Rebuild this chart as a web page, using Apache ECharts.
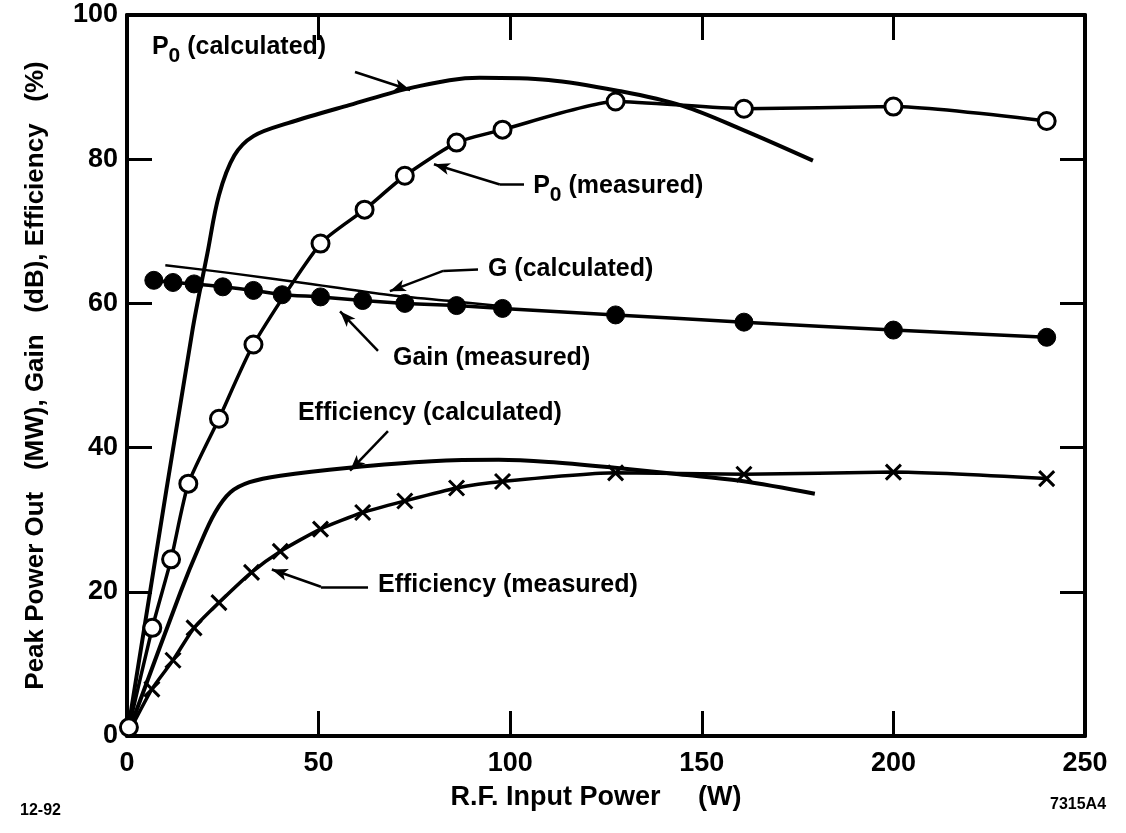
<!DOCTYPE html>
<html>
<head>
<meta charset="utf-8">
<script src="https://cdn.jsdelivr.net/npm/echarts@6/dist/echarts.min.js"></script>
<style>
  html, body { margin: 0; padding: 0; background: #fff; }
  #chart { width: 1126px; height: 833px; }
</style>
</head>
<body>
<div id="chart"></div>
<script>
// 数据：数值
const xTicks = [0, 50, 100, 150, 200, 250];
const yTicks = [0, 20, 40, 60, 80, 100];

// P0 (calculated)
const p0CalcX = [0, 17, 21, 24, 28, 33, 42, 58, 75, 92, 110, 128, 145, 161, 179];
const p0CalcY = [0, 56, 67, 75, 80.5, 83.2, 85, 87.5, 90, 91.3, 91, 89.5, 87.4, 84, 79.8];

// P0 (measured)
const p0MeasX = [0.5, 6.6, 11.5, 16, 24, 33, 50.5, 62, 72.5, 86, 98, 127.5, 161, 200, 240];
const p0MeasY = [1.2, 15, 24.5, 35, 44, 54.3, 68.3, 73, 77.7, 82.3, 84.1, 88, 87, 87.3, 85.3];

// G (calculated)
const gCalcX = [10, 27, 48, 68, 85, 100];
const gCalcY = [65.3, 64.2, 62.7, 61.2, 60.3, 59.5];

// Gain (measured)
const gainMeasX = [7, 12, 17.5, 25, 33, 40.5, 50.5, 61.5, 72.5, 86, 98, 127.5, 161, 200, 240];
const gainMeasY = [63.2, 62.9, 62.7, 62.3, 61.8, 61.2, 60.9, 60.4, 60, 59.7, 59.3, 58.4, 57.4, 56.3, 55.3];

// Efficiency (calculated)
const effCalcX = [0, 14, 19, 23, 27, 32, 40, 58, 79.5, 97, 110, 127.3, 144, 160, 179.5];
const effCalcY = [0, 20, 26.5, 31, 33.8, 35.2, 36.1, 37.2, 38.1, 38.3, 38, 37.2, 36.3, 35.4, 33.6];

// Efficiency (measured)，第一个点在原点，不画标记
const effMeasX = [0, 6.5, 12, 17.5, 24, 32.5, 40, 50.5, 61.5, 72.5, 86, 98, 127.5, 161, 200, 240];
const effMeasY = [0, 6.5, 10.5, 15, 18.5, 22.7, 25.6, 28.7, 31, 32.6, 34.4, 35.3, 36.5, 36.3, 36.6, 35.7];

// 注释文字位置（数据坐标）
const noteP0Calc = [6.5, 95.6];
const noteP0Meas = [106, 76.2];
const noteGCalc = [94.2, 64.7];
const noteGainMeas = [69.4, 52.4];
const noteEffCalc = [44.6, 44.8];
const noteEffMeas = [65.5, 20.9];

const FONT = 'Liberation Sans, Arial, Helvetica, sans-serif';

function pairs(xs, ys) {
    return xs.map((x, i) => [x, ys[i]]);
}

// 箭头：折线的最后一段带箭头
function leader(points) {
    const segs = [];
    for (let i = 0; i < points.length - 1; i++) {
        const last = i === points.length - 2;
        segs.push([
            { coord: points[i], symbol: 'none' },
            { coord: points[i + 1], symbol: last ? 'arrow' : 'none' }
        ]);
    }
    return segs;
}

function noteLine(data) {
    return {
        silent: true,
        animation: false,
        symbolSize: [9, 16],
        label: { show: false },
        lineStyle: { color: '#000', width: 2.5, type: 'solid' },
        emphasis: { disabled: true },
        data: data
    };
}

const richSub = {
    s: { fontSize: 21, fontWeight: 'bold', fontFamily: FONT, color: '#000', padding: [18, 0, 0, 0] }
};

function notePoint(coord, text) {
    return {
        silent: true,
        animation: false,
        symbol: 'circle',
        symbolSize: 0,
        label: {
            show: true,
            position: 'right',
            distance: 0,
            formatter: text,
            color: '#000',
            fontFamily: FONT,
            fontWeight: 'bold',
            fontSize: 25,
            rich: richSub
        },
        data: [{ coord: coord }]
    };
}

const chart = echarts.init(document.getElementById('chart'));

const axisBase = {
    type: 'value',
    axisLine: { show: true, onZero: false, lineStyle: { color: '#000', width: 4 } },
    axisTick: { show: true, inside: true, length: 25, lineStyle: { color: '#000', width: 3 } },
    splitLine: { show: false }
};

const tickFont = { color: '#000', fontFamily: FONT, fontWeight: 'bold', fontSize: 27 };

chart.setOption({
    backgroundColor: '#fff',
    animation: false,
    grid: { left: 127, right: 41, top: 15, bottom: 97 },
    xAxis: [
        Object.assign({}, axisBase, {
            position: 'bottom',
            min: xTicks[0], max: xTicks[xTicks.length - 1], interval: 50,
            axisLabel: Object.assign({ margin: 14 }, tickFont),
            name: 'R.F. Input Power     (W)',
            nameLocation: 'middle',
            nameGap: 48,
            nameTextStyle: Object.assign({ padding: [0, 20, 0, 0] }, tickFont)
        }),
        Object.assign({}, axisBase, {
            position: 'top',
            min: 0, max: 250, interval: 50,
            axisLabel: { show: false }
        })
    ],
    yAxis: [
        Object.assign({}, axisBase, {
            position: 'left',
            min: yTicks[0], max: yTicks[yTicks.length - 1], interval: 20,
            axisLabel: Object.assign({ margin: 9 }, tickFont),
            name: 'Peak Power Out   (MW), Gain   (dB), Efficiency   (%)',
            nameLocation: 'middle',
            nameGap: 78,
            nameTextStyle: Object.assign({}, tickFont, { fontSize: 26 })
        }),
        Object.assign({}, axisBase, {
            position: 'right',
            min: 0, max: 100, interval: 20,
            axisLabel: { show: false }
        })
    ],
    series: [
        {
            name: 'P0 (calculated)',
            type: 'line',
            data: pairs(p0CalcX, p0CalcY),
            smooth: 0.35,
            symbol: 'none',
            lineStyle: { color: '#000', width: 4 },
            z: 2,
            markPoint: notePoint(noteP0Calc, 'P{s|0} (calculated)'),
            markLine: noteLine(leader([[59.5, 92.1], [73.9, 89.6]]))
        },
        {
            name: 'G (calculated)',
            type: 'line',
            data: pairs(gCalcX, gCalcY),
            smooth: 0.3,
            symbol: 'none',
            lineStyle: { color: '#000', width: 2.5 },
            z: 2,
            markPoint: notePoint(noteGCalc, 'G (calculated)'),
            markLine: noteLine(leader([[91.6, 64.7], [82.5, 64.5], [68.6, 61.7]]))
        },
        {
            name: 'Efficiency (calculated)',
            type: 'line',
            data: pairs(effCalcX, effCalcY),
            smooth: 0.35,
            symbol: 'none',
            lineStyle: { color: '#000', width: 4 },
            z: 2,
            markPoint: notePoint(noteEffCalc, 'Efficiency (calculated)'),
            markLine: noteLine(leader([[68.1, 42.3], [58.2, 36.8]]))
        },
        {
            name: 'P0 (measured)',
            type: 'line',
            data: pairs(p0MeasX, p0MeasY),
            smooth: 0.2,
            symbol: 'circle',
            symbolSize: 17,
            showAllSymbol: true,
            itemStyle: { color: '#fff', borderColor: '#000', borderWidth: 3 },
            lineStyle: { color: '#000', width: 3.5 },
            z: 3,
            markPoint: notePoint(noteP0Meas, 'P{s|0} (measured)'),
            markLine: noteLine(leader([[103.6, 76.5], [97.3, 76.5], [80.1, 79.3]]))
        },
        {
            name: 'Gain (measured)',
            type: 'line',
            data: pairs(gainMeasX, gainMeasY),
            smooth: 0.2,
            symbol: 'circle',
            symbolSize: 18,
            showAllSymbol: true,
            itemStyle: { color: '#000', borderColor: '#000', borderWidth: 1 },
            lineStyle: { color: '#000', width: 3.5 },
            z: 3,
            markPoint: notePoint(noteGainMeas, 'Gain (measured)'),
            markLine: noteLine(leader([[65.5, 53.4], [55.6, 58.9]]))
        },
        {
            name: 'Efficiency (measured)',
            type: 'line',
            data: pairs(effMeasX, effMeasY).map((p, i) => i === 0 ? { value: p, symbol: 'none' } : p),
            smooth: 0.2,
            symbol: 'path://M0,0L10,10M10,0L0,10',
            symbolSize: 15,
            showAllSymbol: true,
            itemStyle: { color: 'none', borderColor: '#000', borderWidth: 3 },
            lineStyle: { color: '#000', width: 3.5 },
            z: 3,
            markPoint: notePoint(noteEffMeas, 'Efficiency (measured)'),
            markLine: noteLine(leader([[62.9, 20.7], [50.6, 20.7], [37.8, 23.1]]))
        }
    ],
    graphic: [
        {
            type: 'text', left: 20, top: 803,
            style: { text: '12-92', fill: '#000', font: 'bold 16px ' + FONT }
        },
        {
            type: 'text', left: 1050, top: 797,
            style: { text: '7315A4', fill: '#000', font: 'bold 16px ' + FONT }
        }
    ]
});
</script>
</body>
</html>
